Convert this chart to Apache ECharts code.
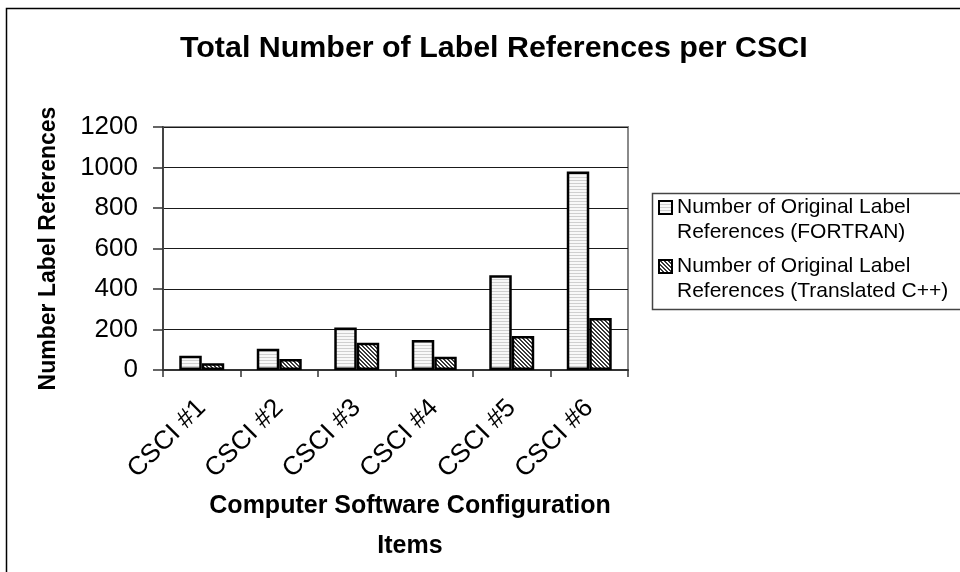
<!DOCTYPE html>
<html>
<head>
<meta charset="utf-8">
<title>Total Number of Label References per CSCI</title>
<script src="https://cdn.jsdelivr.net/npm/echarts@6/dist/echarts.min.js"></script>
<style>
  html, body { margin: 0; padding: 0; background: #ffffff; }
  #chart { width: 960px; height: 572px; }
</style>
</head>
<body>
<div id="chart"></div>
<script>
// Configuration items (CSCIs) on the category axis
const categories = ['CSCI #1', 'CSCI #2', 'CSCI #3', 'CSCI #4', 'CSCI #5', 'CSCI #6'];

// Label reference counts per CSCI
const fortranRefs = [70, 105, 210, 148, 468, 980];
const translatedRefs = [33, 54, 135, 66, 168, 257];

// Series names, as shown in the legend (two lines each)
const seriesNames = [
  'Number of Original Label\nReferences (FORTRAN)',
  'Number of Original Label\nReferences (Translated C++)'
];

// Value axis ticks
const yTicks = [0, 200, 400, 600, 800, 1000, 1200];

const FONT = '"Liberation Sans", Arial, sans-serif';

// Fill pattern: light horizontal stripes
function stripePattern() {
  const c = document.createElement('canvas');
  c.width = 4; c.height = 3;
  const g = c.getContext('2d');
  g.fillStyle = '#f8f8f8';
  g.fillRect(0, 0, 4, 3);
  g.fillStyle = '#cfcfcf';
  g.fillRect(0, 0, 4, 1);
  return c;
}

// Fill pattern: dense diagonal hatch
function hatchPattern() {
  const c = document.createElement('canvas');
  c.width = 4; c.height = 4;
  const g = c.getContext('2d');
  g.fillStyle = '#ffffff';
  g.fillRect(0, 0, 4, 4);
  g.fillStyle = '#3a3a3a';
  for (let y = 0; y < 4; y++) {
    g.fillRect(y % 4, y, 1, 1);
    g.fillRect((y + 1) % 4, y, 1, 1);
  }
  return c;
}

const chart = echarts.init(document.getElementById('chart'), null, { renderer: 'canvas' });

const barStyle = (pattern) => ({
  color: { image: pattern, repeat: 'repeat' },
  borderColor: '#000000',
  borderWidth: 2.5
});

const option = {
  backgroundColor: '#ffffff',
  animation: false,
  title: {
    text: 'Total Number of Label References per CSCI',
    left: 175,
    top: 29,
    textStyle: { fontFamily: FONT, fontSize: 30.4, fontWeight: 'bold', color: '#000' }
  },
  legend: {
    orient: 'vertical',
    left: 658,
    top: 170,
    padding: 0,
    itemWidth: 13,
    itemHeight: 13,
    itemGap: -16,
    icon: 'rect',
    data: seriesNames,
    formatter: (name) => '\n' + name,
    textStyle: { fontFamily: FONT, fontSize: 21, lineHeight: 25, color: '#000' }
  },
  grid: {
    left: 163,
    right: 332,
    top: 127,
    bottom: 202,
    show: true,
    borderColor: '#8a8a8a',
    borderWidth: 2,
    backgroundColor: 'transparent'
  },
  xAxis: {
    type: 'category',
    data: categories,
    name: 'Computer Software Configuration\nItems',
    nameLocation: 'middle',
    nameGap: 112,
    nameTextStyle: {
      fontFamily: FONT, fontSize: 25, fontWeight: 'bold', color: '#000',
      lineHeight: 40, padding: [0, 0, 0, 29]
    },
    axisLine: { lineStyle: { color: '#333', width: 2 } },
    axisTick: { show: true, length: 7, lineStyle: { color: '#333', width: 1.5 } },
    axisLabel: { rotate: 45, margin: 34, fontFamily: FONT, fontSize: 26, color: '#000' },
    splitLine: { show: false }
  },
  yAxis: {
    type: 'value',
    min: yTicks[0],
    max: yTicks[yTicks.length - 1],
    interval: yTicks[1] - yTicks[0],
    name: 'Number Label References',
    nameLocation: 'middle',
    nameGap: 103,
    nameTextStyle: { fontFamily: FONT, fontSize: 23, fontWeight: 'bold', color: '#000' },
    axisLine: { show: true, lineStyle: { color: '#444', width: 2 } },
    axisTick: { show: true, length: 10, lineStyle: { color: '#333', width: 1.5 } },
    axisLabel: {
      margin: 25, fontFamily: FONT, fontSize: 26, color: '#000',
      formatter: (v) => String(v)
    },
    splitLine: { show: true, lineStyle: { color: '#1a1a1a', width: 1 } }
  },
  series: [
    {
      name: seriesNames[0],
      type: 'bar',
      data: fortranRefs,
      barGap: '0%',
      barCategoryGap: '42%',
      itemStyle: barStyle(stripePattern())
    },
    {
      name: seriesNames[1],
      type: 'bar',
      data: translatedRefs,
      barGap: '0%',
      barCategoryGap: '42%',
      itemStyle: barStyle(hatchPattern())
    }
  ],
  graphic: [
    // outer chart frame
    {
      type: 'rect',
      left: 4, top: 6,
      shape: { width: 1000, height: 1000 },
      style: { fill: 'none', stroke: '#000', lineWidth: 1.5 },
      silent: true
    },
    // legend frame
    {
      type: 'rect',
      left: 650, top: 191,
      shape: { width: 400, height: 116 },
      style: { fill: 'none', stroke: '#444', lineWidth: 1.5 },
      silent: true,
      z: -1
    }
  ]
};

chart.setOption(option);
</script>
</body>
</html>
